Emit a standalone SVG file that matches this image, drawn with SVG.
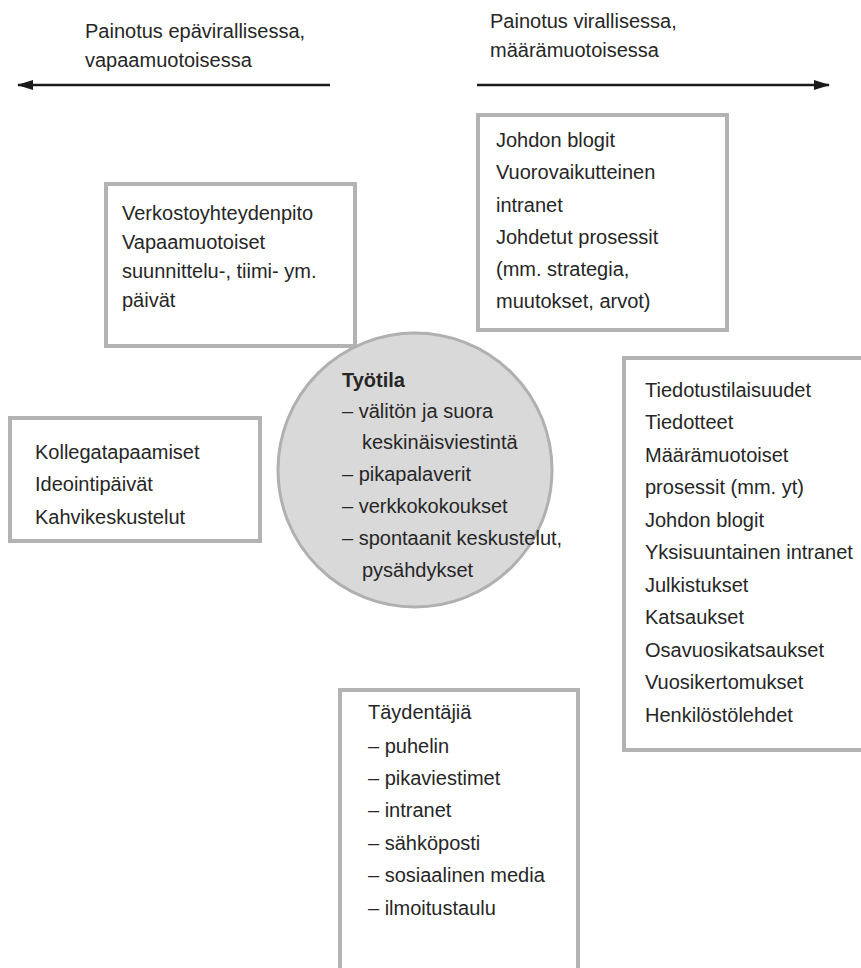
<svg xmlns="http://www.w3.org/2000/svg" width="861" height="968" viewBox="0 0 861 968">
<defs>
<style>
text{font-family:"Liberation Sans Narrow","Liberation Sans",Arial,sans-serif;font-size:20px;fill:#262626}
.box{fill:#fff;stroke:#b3b3b3;stroke-width:4}
.arrow{stroke:#1a1a1a;stroke-width:2.5;fill:none}
</style>
<marker id="ah" viewBox="0 0 16 10" refX="15" refY="5" markerWidth="16" markerHeight="10" markerUnits="userSpaceOnUse" orient="auto">
<path d="M0,0 L16,5 L0,10 z" fill="#1a1a1a"/>
</marker>
</defs>
<rect width="861" height="968" fill="#fff"/>
<g id="labels">
<text x="85" y="38">Painotus epävirallisessa,</text>
<text x="85" y="67">vapaamuotoisessa</text>
<text x="490" y="28">Painotus virallisessa,</text>
<text x="490" y="57">määrämuotoisessa</text>
</g>
<g id="connectors">
<line class="arrow" x1="330" y1="85" x2="18" y2="85" marker-end="url(#ah)"/>
<line class="arrow" x1="477" y1="85" x2="829" y2="85" marker-end="url(#ah)"/>
</g>
<g id="verkosto">
<rect class="box" x="106" y="184" width="249" height="162"/>
<text x="122" y="220">Verkostoyhteydenpito</text>
<text x="122" y="249">Vapaamuotoiset</text>
<text x="122" y="278">suunnittelu-, tiimi- ym.</text>
<text x="122" y="307">päivät</text>
</g>
<g id="johdon">
<rect class="box" x="478" y="115" width="249" height="215"/>
<text x="496" y="147">Johdon blogit</text>
<text x="496" y="179">Vuorovaikutteinen</text>
<text x="496" y="212">intranet</text>
<text x="496" y="244">Johdetut prosessit</text>
<text x="496" y="276">(mm. strategia,</text>
<text x="496" y="308">muutokset, arvot)</text>
</g>
<g id="tiedotus">
<rect class="box" x="624" y="358" width="250" height="392"/>
<text x="645" y="397">Tiedotustilaisuudet</text>
<text x="645" y="429">Tiedotteet</text>
<text x="645" y="462">Määrämuotoiset</text>
<text x="645" y="494">prosessit (mm. yt)</text>
<text x="645" y="527">Johdon blogit</text>
<text x="645" y="559">Yksisuuntainen intranet</text>
<text x="645" y="592">Julkistukset</text>
<text x="645" y="624">Katsaukset</text>
<text x="645" y="657">Osavuosikatsaukset</text>
<text x="645" y="689">Vuosikertomukset</text>
<text x="645" y="722">Henkilöstölehdet</text>
</g>
<g id="kollega">
<rect class="box" x="10" y="418" width="250" height="123"/>
<text x="35" y="459">Kollegatapaamiset</text>
<text x="35" y="491">Ideointipäivät</text>
<text x="35" y="524">Kahvikeskustelut</text>
</g>
<g id="tyotila">
<circle cx="415" cy="470" r="137" fill="#d9d9d9" stroke="#b0b0b0" stroke-width="3"/>
<text x="342" y="387" font-weight="bold">Työtila</text>
<text x="342" y="418">– välitön ja suora</text>
<text x="362" y="449">keskinäisviestintä</text>
<text x="342" y="481">– pikapalaverit</text>
<text x="342" y="513">– verkkokokoukset</text>
<text x="342" y="545">– spontaanit keskustelut,</text>
<text x="362" y="577">pysähdykset</text>
</g>
<g id="taydentajia">
<rect class="box" x="340" y="690" width="238" height="300"/>
<text x="368" y="719">Täydentäjiä</text>
<text x="368" y="753">– puhelin</text>
<text x="368" y="785">– pikaviestimet</text>
<text x="368" y="817">– intranet</text>
<text x="368" y="850">– sähköposti</text>
<text x="368" y="882">– sosiaalinen media</text>
<text x="368" y="915">– ilmoitustaulu</text>
</g>
</svg>
